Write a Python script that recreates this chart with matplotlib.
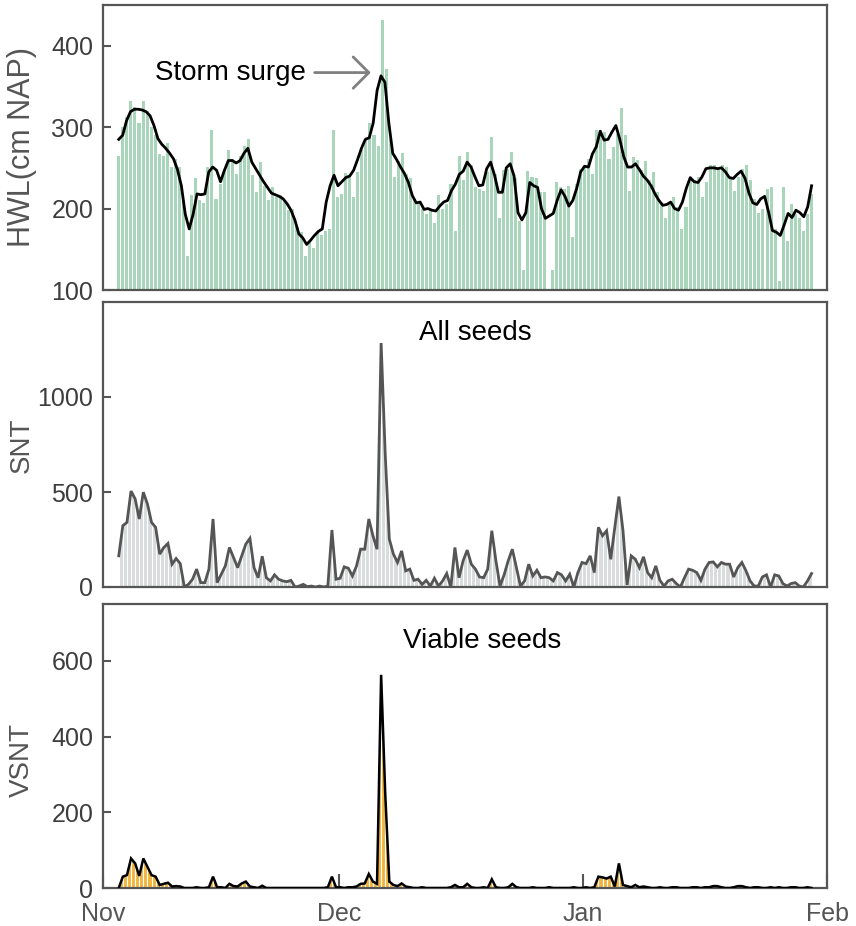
import matplotlib
matplotlib.use("Agg")
import matplotlib.pyplot as plt
import numpy as np
import pandas as pd

plt.rcParams['font.family'] = ['Liberation Sans', 'DejaVu Sans']

# ---------------- data ---------------- #
# all series are sampled per tide between these two moments
first_tide = "2013-11-03 00:00"
last_tide = "2014-01-30 01:00"

# high water level of each tide (cm NAP)
hwl_tides = [
    265, 300, 312, 332, 325, 305, 332, 320, 300, 290, 267, 265, 280, 251, 261,
    251, 210, 142, 217, 237, 210, 207, 251, 297, 212, 230, 247, 272, 261, 243,
    265, 277, 285, 241, 220, 257, 228, 211, 227, 214, 217, 210, 198,
    200, 177, 171, 142, 160, 152, 171, 167, 173, 175, 296, 214, 218, 244, 241,
    214, 245, 272, 284, 305, 290, 277, 432, 372, 286, 239, 259, 268, 243, 237,
    212, 208, 200, 193, 200, 182, 217, 200, 206, 230, 173, 265, 235, 270,
    253, 226, 224, 222, 245, 288, 243, 189, 247, 249, 270, 237, 185, 125, 246,
    239, 238, 220, 220, 100, 125, 233, 226, 224, 228, 165, 230, 249, 253, 261,
    243, 297, 297, 294, 261, 276, 292, 323, 290, 222, 263, 260, 247,
    259, 235, 245, 220, 206, 189, 206, 214, 202, 175, 202, 239, 235, 239, 214,
    233, 253, 253, 247, 253, 251, 239, 222, 239, 249, 253, 235, 212, 195, 200,
    224, 226, 175, 111, 226, 160, 206, 193, 189, 173, 193, 218,
]

# smoothed high water level (cm NAP)
hwl_smooth = [
    285, 290, 308, 319, 322, 322, 321, 319, 314, 302,
    286, 279, 274, 268, 261, 248, 228, 193, 175, 193,
    218, 217, 218, 245, 251, 247, 233, 247, 259, 259,
    256, 259, 268, 274, 257, 249, 241, 233, 226, 219,
    217, 215, 212, 206, 198, 186, 169, 164, 156, 161,
    167, 172, 175, 208, 228, 241, 228, 233, 238, 240,
    247, 260, 274, 285, 287, 305, 345, 363, 355, 305,
    268, 260, 251, 243, 232, 216, 207, 208, 199, 200,
    198, 197, 203, 208, 210, 222, 230, 242, 246, 257,
    251, 239, 228, 229, 249, 257, 241, 220, 220, 250,
    255, 240, 195, 186, 195, 232, 228, 226, 200, 188,
    191, 194, 210, 223, 215, 203, 210, 225, 245, 252,
    251, 267, 276, 295, 284, 285, 294, 302, 285, 264,
    251, 251, 255, 248, 240, 235, 228, 218, 210, 204,
    205, 208, 200, 198, 208, 225, 238, 233, 232, 239,
    249, 250, 250, 249, 250, 245, 238, 237, 242, 246,
    237, 219, 207, 205, 212, 215, 196, 173, 171, 167,
    180, 194, 189, 198, 195, 190, 202, 228,
]

# seed numbers trapped, all seeds
snt = [
    164, 323, 340, 505, 464, 358, 499, 437, 340, 314,
    173, 208, 229, 120, 150, 123, 0, 14, 41, 94,
    23, 23, 94, 358, 23, 67, 111, 208, 155, 102,
    164, 226, 256, 102, 49, 162, 49, 32, 64, 41,
    32, 28, 35, 0, 5, 14, 2, 5, 0, 5,
    0, 5, 300, 41, 46, 106, 99, 58, 111, 199,
    199, 358, 270, 199, 1284, 700, 252, 173, 129, 190,
    85, 94, 35, 41, 14, 35, 5, 46, 5, 32,
    71, 0, 208, 49, 138, 194, 120, 94, 53, 49,
    94, 296, 138, 5, 64, 138, 199, 102, 5, 32,
    120, 58, 88, 49, 53, 49, 32, 76, 64, 32,
    67, 0, 76, 129, 123, 164, 76, 314, 270, 296,
    146, 314, 476, 296, 11, 164, 146, 102, 159, 76,
    49, 111, 35, 5, 32, 41, 18, 0, 49, 94,
    88, 76, 35, 94, 129, 132, 106, 129, 120, 120,
    53, 102, 129, 85, 32, 5, 5, 53, 64, 0,
    64, 58, 18, 5, 18, 23, 5, 0, 32, 71,
]

# seed numbers trapped, viable seeds only
vsnt = [
    0, 30, 34, 78, 65, 32, 78, 56, 34, 30,
    8, 11, 14, 4, 5, 4, 0, 0, 0, 2,
    0, 0, 2, 30, 2, 2, 0, 11, 5, 4,
    12, 17, 4, 2, 0, 6, 0, 0, 0, 0,
    0, 0, 0, 0, 0, 0, 0, 0, 0, 0,
    0, 2, 30, 2, 2, 0, 2, 2, 4, 11,
    12, 37, 17, 11, 563, 250, 17, 8, 5, 12,
    4, 2, 0, 0, 2, 0, 0, 0, 0, 0,
    0, 2, 8, 2, 2, 11, 2, 0, 0, 2,
    0, 23, 2, 0, 0, 2, 11, 2, 0, 0,
    0, 2, 0, 0, 0, 2, 0, 0, 0, 0,
    0, 2, 0, 0, 2, 0, 2, 30, 28, 25,
    30, 4, 65, 8, 5, 2, 8, 2, 4, 2,
    0, 0, 2, 0, 0, 2, 2, 0, 0, 0,
    2, 2, 0, 2, 2, 5, 5, 2, 0, 0,
    2, 5, 5, 2, 0, 2, 2, 0, 0, 2,
    0, 2, 0, 0, 2, 2, 0, 0, 2, 0,
]

month_ticks = ["2013-11-01", "2013-12-01", "2014-01-01", "2014-02-01"]
month_labels = ["Nov", "Dec", "Jan", "Feb"]

# ---------------- styling ---------------- #
GREEN = "#a9d5ba"
GREY_FILL = "#d8dcdc"
GREY_LINE = "#555555"
ORANGE = "#f1b440"
SPINE = "#555555"
TICK_TXT = "#3d3d3d"
FS = 18      # tick labels
FS_TXT = 20  # panel texts


def tide_times(values):
    return pd.date_range(first_tide, last_tide, periods=len(values))


def style_axis(ax, yticks, ylim):
    ax.set_xlim(pd.Timestamp(month_ticks[0]), pd.Timestamp(month_ticks[-1]))
    ax.set_ylim(*ylim)
    ax.set_yticks(yticks)
    for sp in ax.spines.values():
        sp.set_color(SPINE)
        sp.set_linewidth(1.6)
    ax.tick_params(axis='y', direction='in', length=6, width=1.5,
                   color=SPINE, labelsize=FS, labelcolor=TICK_TXT, pad=7)
    ax.set_xticks(pd.to_datetime(month_ticks))
    ax.tick_params(axis='x', length=0, labelbottom=False)


def striped_area(ax, t, values, fill, edge, lw):
    ax.fill_between(t, 0, values, color=fill, lw=0, zorder=1)
    ax.vlines(t, 0, values, color="white", lw=0.8, zorder=1.5)
    ax.plot(t, values, color=edge, lw=lw, solid_joinstyle='miter', zorder=3)


fig = plt.figure(figsize=(8.56, 9.26), dpi=100)
W, H = 856, 926
left, width = 103 / W, 724 / W
ax1 = fig.add_axes([left, 1 - 290 / H, width, 285 / H])
ax2 = fig.add_axes([left, 1 - 587 / H, width, 285 / H])
ax3 = fig.add_axes([left, 1 - 888 / H, width, 284 / H])

# --- high water levels ---
t_bar = tide_times(hwl_tides)
bar_w = (t_bar[1] - t_bar[0]) / pd.Timedelta(days=1) * 0.75
ax1.bar(t_bar, hwl_tides, width=bar_w, color=GREEN, lw=0, zorder=1)
t_line = tide_times(hwl_smooth)
ax1.plot(t_line, hwl_smooth, color="black", lw=2, zorder=3)
style_axis(ax1, [100, 200, 300, 400], (100, 450))

peak = int(np.argmax(hwl_smooth))
ax1.annotate("Storm surge",
             xy=(t_line[peak] - pd.Timedelta(days=1.3), hwl_smooth[peak] + 4),
             xytext=(pd.Timestamp("2013-11-26 20:00"), hwl_smooth[peak] + 4),
             ha='right', va='center', fontsize=FS_TXT, color="black",
             arrowprops=dict(arrowstyle="->,head_length=0.45,head_width=0.45",
                             color="#808080", lw=2, shrinkA=4, shrinkB=0,
                             mutation_scale=25))

# --- all seeds ---
t_snt = tide_times(snt)
striped_area(ax2, t_snt, snt, GREY_FILL, GREY_LINE, 2)
style_axis(ax2, [0, 500, 1000], (0, 1500))
ax2.text(0.514, 0.89, "All seeds", transform=ax2.transAxes, ha='center',
         va='center', fontsize=FS_TXT, color="black")

# --- viable seeds ---
t_vsnt = tide_times(vsnt)
striped_area(ax3, t_vsnt, vsnt, ORANGE, "black", 1.8)
style_axis(ax3, [0, 200, 400, 600], (0, 750))
ax3.text(0.523, 0.87, "Viable seeds", transform=ax3.transAxes, ha='center',
         va='center', fontsize=FS_TXT, color="black")
ax3.tick_params(axis='x', direction='in', length=10, width=1.5, color=SPINE,
                labelbottom=True, labelsize=FS, labelcolor=GREY_LINE, pad=10)
ax3.set_xticklabels(month_labels)

# axis titles
fig.text(22 / W, 1 - 147 / H, "HWL(cm NAP)", rotation=90, ha='center',
         va='center', fontsize=22, color=GREY_LINE)
fig.text(22 / W, 1 - 445 / H, "SNT", rotation=90, ha='center',
         va='center', fontsize=FS_TXT, color=GREY_LINE)
fig.text(22 / W, 1 - 760 / H, "VSNT", rotation=90, ha='center',
         va='center', fontsize=FS_TXT, color=GREY_LINE)

fig.savefig("out.png", dpi=100)
